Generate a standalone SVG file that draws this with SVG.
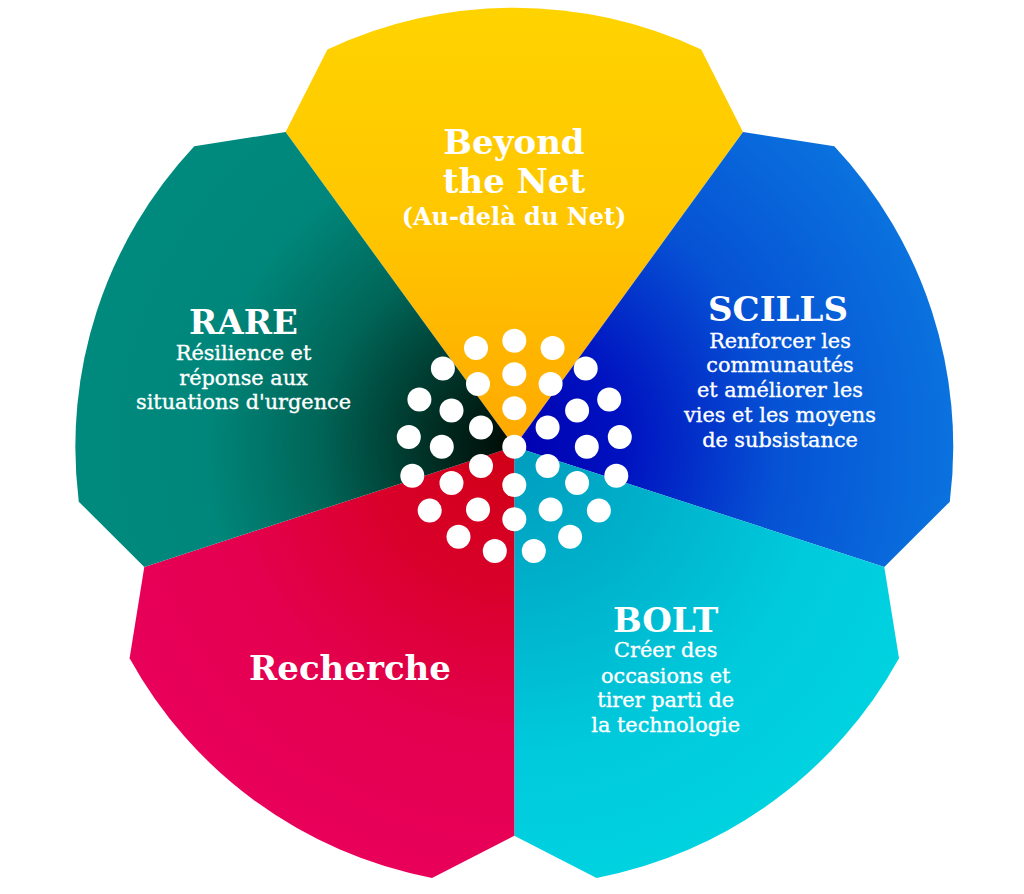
<svg xmlns="http://www.w3.org/2000/svg" width="1024" height="894" viewBox="0 0 1024 894">
<style>
.t{font-family:"DejaVu Serif","Liberation Serif",serif;font-weight:bold;font-size:34px;fill:#fff;text-anchor:middle}
.s{font-family:"DejaVu Serif","Liberation Serif",serif;font-size:20.8px;fill:#fff;stroke:#fff;stroke-width:0.35px;text-anchor:middle}
.sb{font-family:"DejaVu Serif","Liberation Serif",serif;font-weight:bold;font-size:24px;fill:#fff;text-anchor:middle}
.dots circle{fill:#fff}
</style>
<defs>
<linearGradient id="gY" gradientUnits="userSpaceOnUse" x1="514" y1="10" x2="514" y2="446">
<stop offset="0" stop-color="#FFD300"/><stop offset="0.5" stop-color="#FFC600"/><stop offset="1" stop-color="#FFA800"/>
</linearGradient>
<radialGradient id="gB" gradientUnits="userSpaceOnUse" cx="514.3" cy="446.7" r="440">
<stop offset="0" stop-color="#0000B0"/><stop offset="0.25" stop-color="#0012C0"/><stop offset="0.6" stop-color="#0652D4"/><stop offset="1" stop-color="#0A72DE"/>
</radialGradient>
<radialGradient id="gC" gradientUnits="userSpaceOnUse" cx="514.3" cy="446.7" r="440">
<stop offset="0" stop-color="#009CBE"/><stop offset="0.35" stop-color="#00B2CC"/><stop offset="0.7" stop-color="#00CADC"/><stop offset="1" stop-color="#00D2E0"/>
</radialGradient>
<radialGradient id="gR" gradientUnits="userSpaceOnUse" cx="514.3" cy="446.7" r="440">
<stop offset="0" stop-color="#D00016"/><stop offset="0.3" stop-color="#D80028"/><stop offset="0.65" stop-color="#E4004E"/><stop offset="1" stop-color="#E8005A"/>
</radialGradient>
<radialGradient id="gT" gradientUnits="userSpaceOnUse" cx="514.3" cy="446.7" r="440">
<stop offset="0" stop-color="#000A04"/><stop offset="0.15" stop-color="#00261C"/><stop offset="0.45" stop-color="#006658"/><stop offset="0.7" stop-color="#00867A"/><stop offset="1" stop-color="#008A7E"/>
</radialGradient>
</defs>

<g id="beyond-the-net">
<path d="M514.3,446.7 L285.6,132 L327.4,49.5 A439,439 0 0 1 701.2,49.5 L743,132 Z" fill="url(#gY)"/>
<text class="t" x="514" y="154">Beyond</text>
<text class="t" x="514" y="193">the Net</text>
<text class="sb" x="514" y="225">(Au-delà du Net)</text>
</g>

<g id="scills">
<path d="M514.3,446.7 L743,132 L834.3,146.2 A439,439 0 0 1 949.8,501.7 L884.3,566.9 Z" fill="url(#gB)"/>
<text class="t" x="778" y="321">SCILLS</text>
<text class="s" x="780" y="347.7">Renforcer les</text>
<text class="s" x="780" y="372">communautés</text>
<text class="s" x="780" y="396.7">et améliorer les</text>
<text class="s" x="780" y="421.7">vies et les moyens</text>
<text class="s" x="780" y="446.7">de subsistance</text>
</g>

<g id="bolt">
<path d="M514.3,446.7 L884.3,566.9 L899,658.2 A439,439 0 0 1 596.6,877.9 L514.3,835.7 Z" fill="url(#gC)"/>
<text class="t" x="665.6" y="631.5">BOLT</text>
<text class="s" x="665.7" y="657.3">Créer des</text>
<text class="s" x="665.7" y="682.7">occasions et</text>
<text class="s" x="665.7" y="706.7">tirer parti de</text>
<text class="s" x="665.7" y="731.7">la technologie</text>
</g>

<g id="recherche">
<path d="M514.3,446.7 L514.3,835.7 L432,877.9 A439,439 0 0 1 129.6,658.2 L144.3,566.9 Z" fill="url(#gR)"/>
<text class="t" x="350" y="680">Recherche</text>
</g>

<g id="rare">
<path d="M514.3,446.7 L144.3,566.9 L78.8,501.7 A439,439 0 0 1 194.3,146.2 L285.6,132 Z" fill="url(#gT)"/>
<text class="t" x="243.5" y="333.5">RARE</text>
<text class="s" x="243.5" y="360">Résilience et</text>
<text class="s" x="243.5" y="385">réponse aux</text>
<text class="s" x="243.5" y="409.3">situations d'urgence</text>
</g>

<g id="center-dots" class="dots">
<circle cx="514.3" cy="446.7" r="12"/>
<circle cx="514.3" cy="408.3" r="12"/>
<circle cx="547.6" cy="427.5" r="12"/>
<circle cx="547.6" cy="465.9" r="12"/>
<circle cx="514.3" cy="485.1" r="12"/>
<circle cx="481" cy="465.9" r="12"/>
<circle cx="481" cy="427.5" r="12"/>
<circle cx="514.3" cy="374.2" r="12"/>
<circle cx="550.6" cy="383.9" r="12"/>
<circle cx="577.1" cy="410.5" r="12"/>
<circle cx="586.8" cy="446.7" r="12"/>
<circle cx="577.1" cy="482.9" r="12"/>
<circle cx="550.6" cy="509.5" r="12"/>
<circle cx="514.3" cy="519.2" r="12"/>
<circle cx="478" cy="509.5" r="12"/>
<circle cx="451.5" cy="482.9" r="12"/>
<circle cx="441.8" cy="446.7" r="12"/>
<circle cx="451.5" cy="410.5" r="12"/>
<circle cx="478" cy="383.9" r="12"/>
<circle cx="514.3" cy="340.7" r="12"/>
<circle cx="552.6" cy="347.9" r="12"/>
<circle cx="585.7" cy="368.4" r="12"/>
<circle cx="609.2" cy="399.5" r="12"/>
<circle cx="619.8" cy="436.9" r="12"/>
<circle cx="616.3" cy="475.7" r="12"/>
<circle cx="598.9" cy="510.6" r="12"/>
<circle cx="570.1" cy="536.8" r="12"/>
<circle cx="533.8" cy="550.9" r="12"/>
<circle cx="494.8" cy="550.9" r="12"/>
<circle cx="458.5" cy="536.8" r="12"/>
<circle cx="429.7" cy="510.6" r="12"/>
<circle cx="412.3" cy="475.7" r="12"/>
<circle cx="408.8" cy="436.9" r="12"/>
<circle cx="419.4" cy="399.5" r="12"/>
<circle cx="442.9" cy="368.4" r="12"/>
<circle cx="476" cy="347.9" r="12"/>
</g>
</svg>
